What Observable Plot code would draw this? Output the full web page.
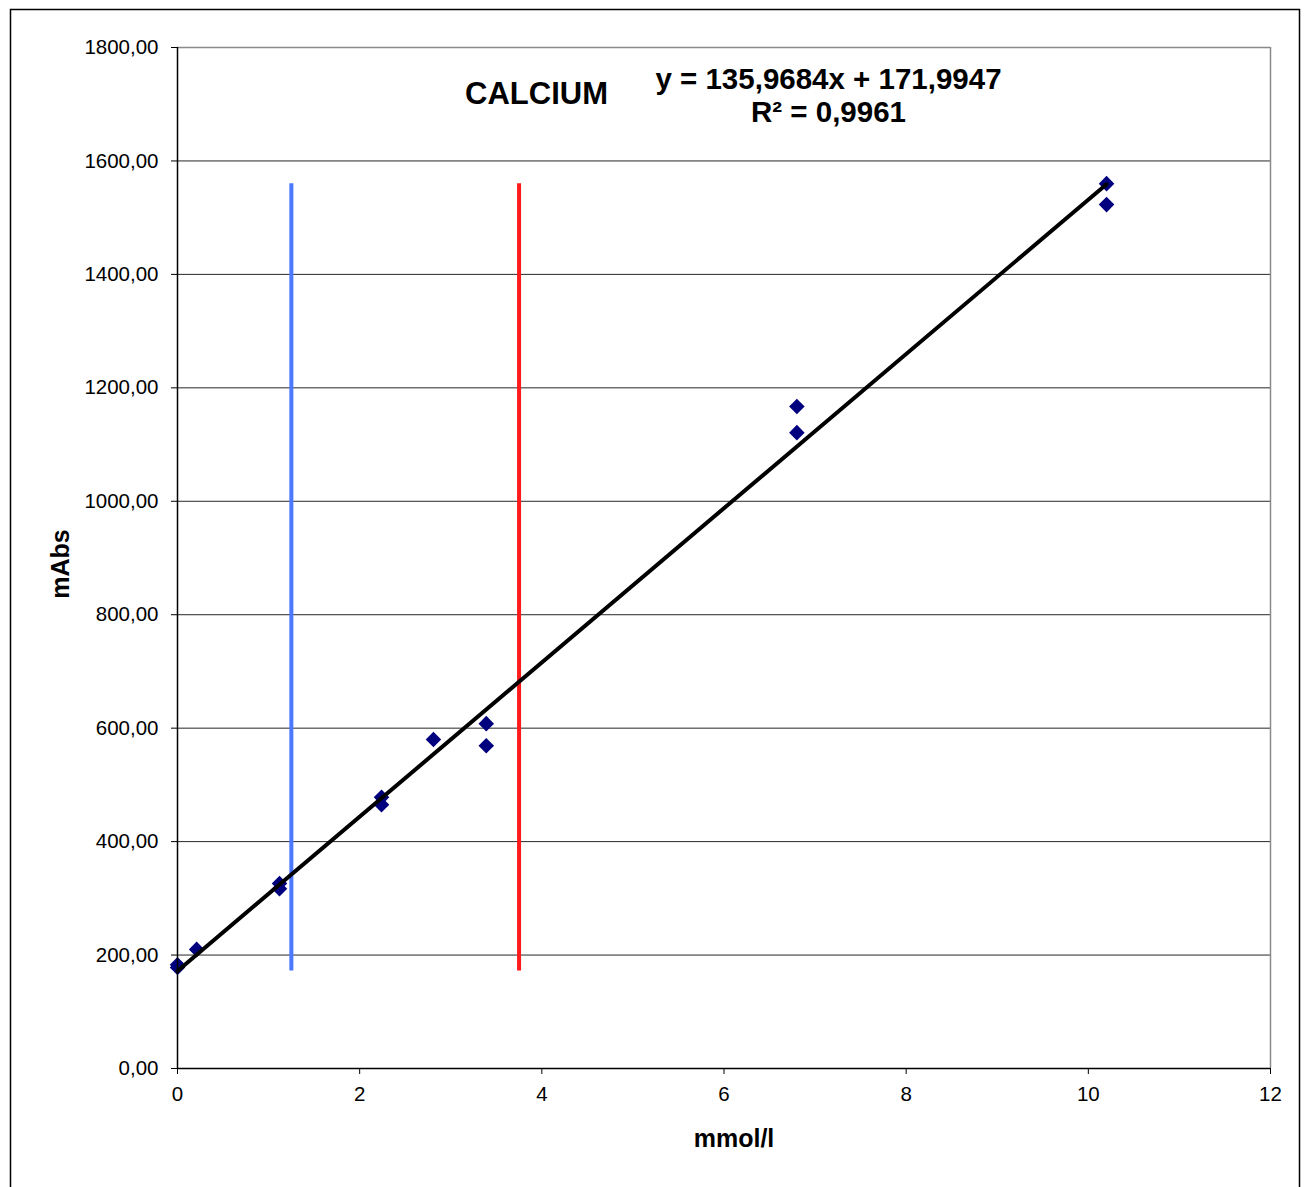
<!DOCTYPE html>
<html>
<head>
<meta charset="utf-8">
<script src="https://cdn.jsdelivr.net/npm/d3@7"></script>
<script src="https://cdn.jsdelivr.net/npm/@observablehq/plot@0.6"></script>
<style>
  html, body { margin: 0; padding: 0; background: #fff; }
  #chart svg { display: block; }
</style>
</head>
<body>
<div id="chart"></div>
<script>
// Data
const concentration = [0, 0, 0.21, 1.12, 1.12, 2.24, 2.24, 2.81, 3.39, 3.39, 6.8, 6.8, 10.2, 10.2];
const absorbance   = [178, 183, 210, 326, 317, 478, 465, 580, 608, 569, 1167, 1121, 1560, 1523];
const slope = 135.9684;
const intercept = 171.9947;
const refLines = [1.25, 3.75];
const refColors = ["#4a78ff", "#ff1a1a"];
const refRange = [172, 1560];
const xTicks = [0, 2, 4, 6, 8, 10, 12];
const yTicks = [0, 200, 400, 600, 800, 1000, 1200, 1400, 1600, 1800];
const titleText = "CALCIUM";
const equationText = "y = 135,9684x + 171,9947";
const r2Text = "R² = 0,9961";

const points = concentration.map((x, i) => ({x, y: absorbance[i]}));
const xMin = d3.min(concentration), xMax = d3.max(concentration);
const fit = [xMin, xMax].map(x => ({x, y: slope * x + intercept}));
const refs = refLines.map((x, i) => ({x, color: refColors[i]}));

const chart = Plot.plot({
  width: 1306,
  height: 1187,
  marginLeft: 177,
  marginRight: 36,
  marginTop: 47,
  marginBottom: 119,
  style: {fontFamily: "'Liberation Sans', Arial, sans-serif", fontSize: "20px", background: "#fff", color: "#000"},
  x: {domain: [0, 12]},
  y: {domain: [0, 1800]},
  marks: [
    Plot.gridY(yTicks, {stroke: "#000", strokeOpacity: 0.85, strokeWidth: 1}),
    Plot.ruleY([1800], {stroke: "#8a8a8a", strokeWidth: 1.5}),
    Plot.ruleX([12], {stroke: "#8a8a8a", strokeWidth: 1.5}),
    Plot.ruleX(refs, {x: "x", y1: refRange[0], y2: refRange[1], stroke: "color", strokeWidth: 4}),
    Plot.dot(points, {x: "x", y: "y", symbol: "diamond2", r: 7, fill: "#00007f", stroke: "none"}),
    Plot.line(fit, {x: "x", y: "y", stroke: "#000", strokeWidth: 4}),
    Plot.ruleX([0], {stroke: "#000", strokeWidth: 1.5}),
    Plot.ruleY([0], {stroke: "#000", strokeWidth: 1.5}),
    Plot.axisY(yTicks, {tickSize: 6, tickPadding: 13, fontSize: 20.5, stroke: "#000", tickFormat: d => d.toFixed(2).replace(".", ","), label: null}),
    Plot.axisX(xTicks, {tickSize: 6, tickPadding: 12, fontSize: 20.5, stroke: "#000", tickFormat: d => String(d), label: null}),
    Plot.text([titleText], {frameAnchor: "top-left", lineAnchor: "middle", dx: 359, dy: 47, fontSize: 31, fontWeight: "bold", textAnchor: "middle"}),
    Plot.text([equationText], {frameAnchor: "top-left", lineAnchor: "middle", dx: 651, dy: 32, fontSize: 29.5, fontWeight: "bold", textAnchor: "middle"}),
    Plot.text([r2Text], {frameAnchor: "top-left", lineAnchor: "middle", dx: 651, dy: 65, fontSize: 29.5, fontWeight: "bold", textAnchor: "middle"}),
    Plot.text(["mmol/l"], {frameAnchor: "bottom", lineAnchor: "middle", dx: 10, dy: 70, fontSize: 25, fontWeight: "bold", textAnchor: "middle"}),
    Plot.text(["mAbs"], {frameAnchor: "left", lineAnchor: "middle", dx: -117, dy: 6, fontSize: 25, fontWeight: "bold", rotate: -90, textAnchor: "middle"})
  ]
});

// outer chart-area border
d3.select(chart).insert("rect", ":first-child")
  .attr("x", 10.5).attr("y", 9.5).attr("width", 1289).attr("height", 1200)
  .attr("fill", "none").attr("stroke", "#000").attr("stroke-width", 1.5);

document.getElementById("chart").append(chart);
</script>
</body>
</html>
